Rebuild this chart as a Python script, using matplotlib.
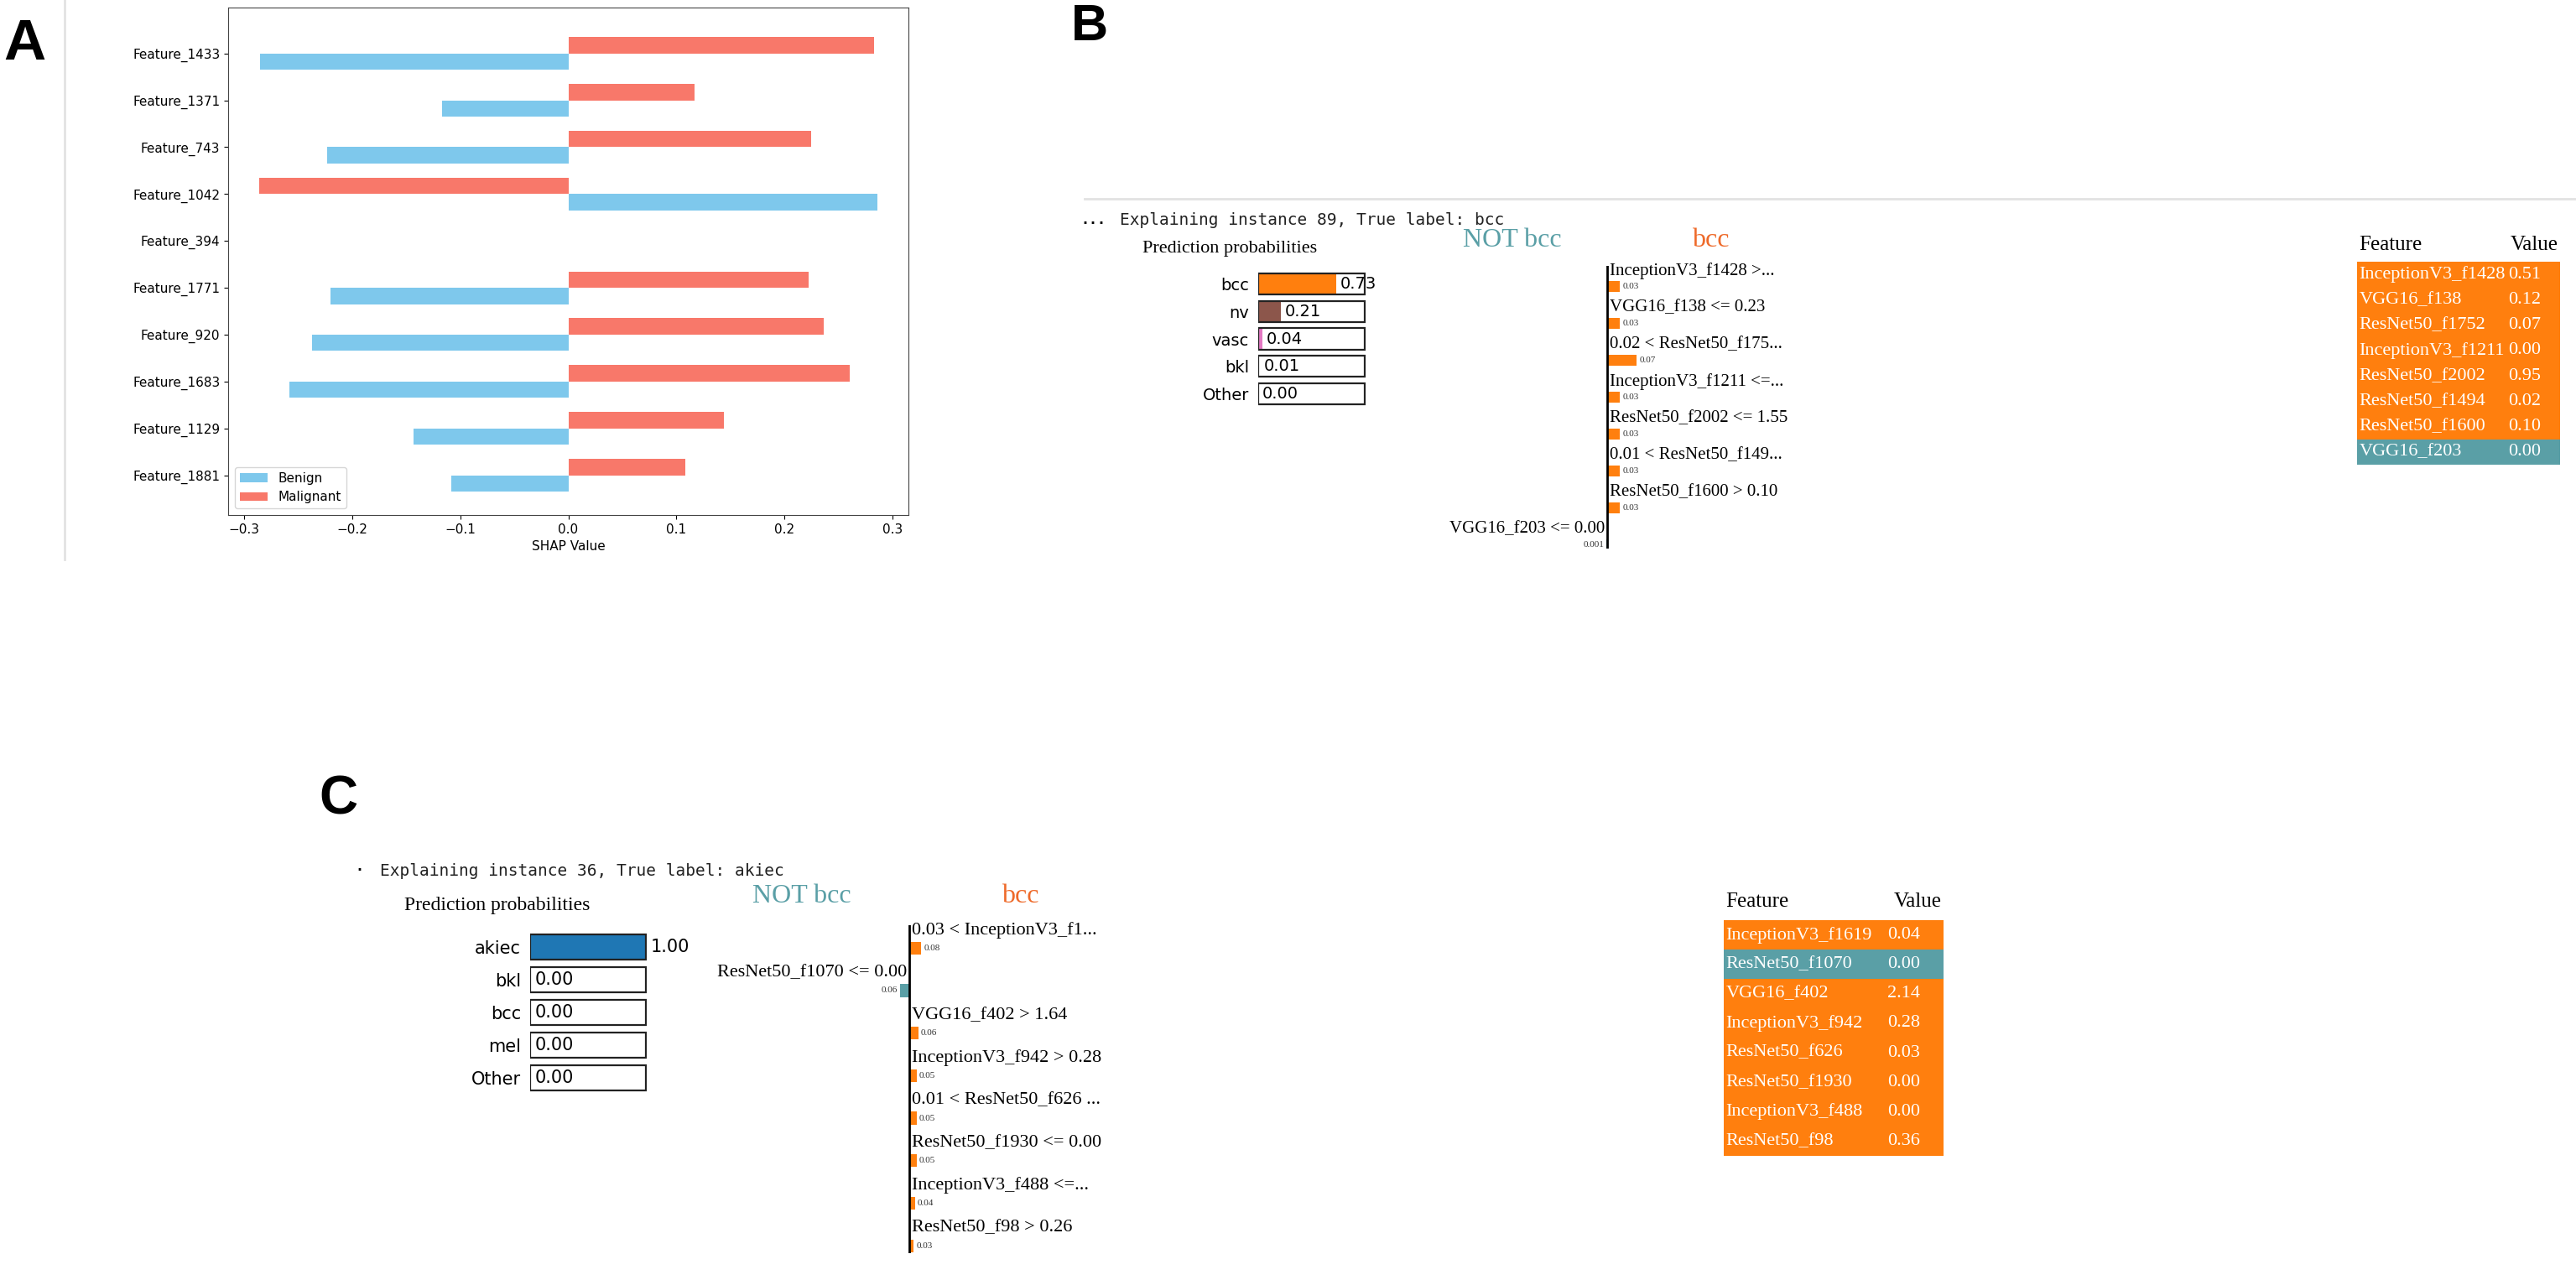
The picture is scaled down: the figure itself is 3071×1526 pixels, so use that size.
import matplotlib.pyplot as plt
from matplotlib.patches import Rectangle
from matplotlib.lines import Line2D
import numpy as np

W, H = 3071, 1526

# ---- panel A data (SHAP values) ----
features_a = ["Feature_1433", "Feature_1371", "Feature_743", "Feature_1042", "Feature_394",
              "Feature_1771", "Feature_920", "Feature_1683", "Feature_1129", "Feature_1881"]
benign = [-0.285, -0.117, -0.223, 0.286, 0.0, -0.220, -0.237, -0.258, -0.143, -0.108]
malignant = [0.283, 0.117, 0.225, -0.286, 0.0, 0.222, 0.236, 0.260, 0.144, 0.108]

# ---- panel B data (LIME, instance 89) ----
b_classes = ["bcc", "nv", "vasc", "bkl", "Other"]
b_probs = [0.73, 0.21, 0.04, 0.01, 0.00]
b_colors = ["#ff7f0e", "#8c564b", "#e377c2", "#7f7f7f", "#bcbd22"]
b_rules = ["InceptionV3_f1428 >...", "VGG16_f138 <= 0.23", "0.02 < ResNet50_f175...",
           "InceptionV3_f1211 <=...", "ResNet50_f2002 <= 1.55", "0.01 < ResNet50_f149...",
           "ResNet50_f1600 > 0.10", "VGG16_f203 <= 0.00"]
b_weights = [0.03, 0.03, 0.07, 0.03, 0.03, 0.03, 0.03, -0.001]
b_wlabels = ["0.03", "0.03", "0.07", "0.03", "0.03", "0.03", "0.03", "0.001"]
b_tab_feat = ["InceptionV3_f1428", "VGG16_f138", "ResNet50_f1752", "InceptionV3_f1211",
              "ResNet50_f2002", "ResNet50_f1494", "ResNet50_f1600", "VGG16_f203"]
b_tab_val = ["0.51", "0.12", "0.07", "0.00", "0.95", "0.02", "0.10", "0.00"]

# ---- panel C data (LIME, instance 36) ----
c_classes = ["akiec", "bkl", "bcc", "mel", "Other"]
c_probs = [1.00, 0.00, 0.00, 0.00, 0.00]
c_colors = ["#1f77b4", "#7f7f7f", "#ff7f0e", "#d62728", "#bcbd22"]
c_rules = ["0.03 < InceptionV3_f1...", "ResNet50_f1070 <= 0.00", "VGG16_f402 > 1.64",
           "InceptionV3_f942 > 0.28", "0.01 < ResNet50_f626 ...", "ResNet50_f1930 <= 0.00",
           "InceptionV3_f488 <=...", "ResNet50_f98 > 0.26"]
c_weights = [0.08, -0.06, 0.06, 0.05, 0.05, 0.05, 0.04, 0.03]
c_wlabels = ["0.08", "0.06", "0.06", "0.05", "0.05", "0.05", "0.04", "0.03"]
c_tab_feat = ["InceptionV3_f1619", "ResNet50_f1070", "VGG16_f402", "InceptionV3_f942",
              "ResNet50_f626", "ResNet50_f1930", "InceptionV3_f488", "ResNet50_f98"]
c_tab_val = ["0.04", "0.00", "2.14", "0.28", "0.03", "0.00", "0.00", "0.36"]

ORANGE = "#ff7f0e"
TEAL = "#5a9fa6"
SERIF = "Liberation Serif"
MONO = "DejaVu Sans Mono"

fig = plt.figure(figsize=(W / 100, H / 100), dpi=100)


def ax_px(x0, y0, x1, y1):
    return fig.add_axes([x0 / W, 1 - y1 / H, (x1 - x0) / W, (y1 - y0) / H])


def ftext(x, y, s, **kw):
    fig.text(x / W, 1 - y / H, s, **kw)


# panel letters and separators
ftext(4, 53, "A", fontsize=50, fontweight="bold", family="Liberation Sans", va="center")
ftext(1277, 33, "B", fontsize=44, fontweight="bold", family="Liberation Sans", va="center")
ftext(380, 953, "C", fontsize=46, fontweight="bold", family="Liberation Sans", va="center")
fig.add_artist(Line2D([77 / W, 77 / W], [1, 1 - 667 / H], color="#e2e2e2", lw=2))
fig.add_artist(Line2D([1293 / W, 1], [1 - 237 / H, 1 - 237 / H], color="#e2e2e2", lw=2))

# ---- panel A ----
axA = ax_px(272, 9, 1083, 614)
ya = np.arange(len(features_a))[::-1]
axA.barh(ya - 0.175, benign, height=0.35, color="#7ec8ec", label="Benign")
axA.barh(ya + 0.175, malignant, height=0.35, color="#f8786a", label="Malignant")
axA.set_yticks(ya)
axA.set_yticklabels(features_a, fontsize=11)
axA.set_xlim(-0.3147, 0.3147)
axA.set_ylim(-0.85, 9.98)
axA.set_xticks([-0.3, -0.2, -0.1, 0.0, 0.1, 0.2, 0.3])
axA.tick_params(labelsize=11)
axA.set_xlabel("SHAP Value", fontsize=11)
for s in axA.spines.values():
    s.set_color("#444444")
axA.legend(loc="lower left", fontsize=11, handlelength=2.2)
# lower half of the axis title is cropped in the source
fig.add_artist(Rectangle((600 / W, 1 - 700 / H), 300 / W, 30 / H, transform=fig.transFigure,
                         facecolor="white", edgecolor="none", zorder=10))


def lime_panel(title, tx, ty, mark, mark_s, pp_xy, prob_box, classes, probs, colors, fs,
               hdr_xy, rules, weights, wlabels, exp_box, xlim, row_top, row_sp, efs,
               tab_box, hdr_y, feats, vals):
    ftext(mark, ty, mark_s, fontsize=12, family=MONO, va="center", fontweight="bold")
    ftext(tx, ty, title, fontsize=14, family=MONO, va="center", color="#222222")
    ftext(pp_xy[0], pp_xy[1], "Prediction probabilities", fontsize=fs + 2, family=SERIF, va="center")
    # probability bars
    x0, y0, x1, y1 = prob_box
    ax = ax_px(x0, y0, x1, y1)
    yy = np.arange(len(classes))
    ax.barh(yy, probs, height=0.77, color=colors)
    ax.barh(yy, [1] * len(classes), height=0.77, facecolor="none", edgecolor="#222222", lw=1.6)
    for y, p in zip(yy, probs):
        ax.text(p + 0.04, y, f"{p:.2f}", va="center", fontsize=fs)
    ax.set_xlim(0, 1.005)
    ax.set_ylim(len(classes) - 0.5, -0.5)
    ax.set_yticks(yy)
    ax.set_yticklabels(classes, fontsize=fs)
    ax.set_xticks([])
    ax.tick_params(length=0, pad=8)
    for s in ax.spines.values():
        s.set_visible(False)
    # explanation
    ftext(hdr_xy[0], hdr_xy[1], "NOT bcc", fontsize=23, family=SERIF, color=TEAL, va="center")
    ftext(hdr_xy[2], hdr_xy[1], "bcc", fontsize=23, family=SERIF, color="#ee6a2a", va="center")
    x0, y0, x1, y1 = exp_box
    ae = ax_px(x0, y0, x1, y1)
    n = len(rules)
    ae.set_xlim(*xlim)
    ae.set_ylim((y1 - row_top) / row_sp, (y0 - row_top) / row_sp)
    off = 0.42
    ae.barh(np.arange(n) + off, weights, height=0.3,
            color=[ORANGE if w > 0 else TEAL for w in weights])
    d = (xlim[1] - xlim[0]) * 0.004
    for i, (r, w, wl) in enumerate(zip(rules, weights, wlabels)):
        if w > 0:
            ae.text(d, i, r, ha="left", va="center", fontsize=efs, family=SERIF)
            ae.text(w + d, i + off, wl, ha="left", va="center", fontsize=8, family=SERIF, color="#333333")
        else:
            ae.text(-d, i, r, ha="right", va="center", fontsize=efs, family=SERIF)
            ae.text(w - d, i + off, wl, ha="right", va="center", fontsize=8, family=SERIF, color="#333333")
    ae.axvline(0, color="black", lw=2)
    ae.axis("off")
    # table
    x0, y0, x1, y1 = tab_box
    ftext(x0 + 2, hdr_y, "Feature", fontsize=18, family=SERIF, va="center")
    ftext(x1 - 2, hdr_y, "Value", fontsize=18, family=SERIF, va="center", ha="right")
    at = ax_px(x0, y0, x1, y1)
    yy = np.arange(len(feats))
    at.barh(yy, [1] * len(feats), height=1.0,
            color=[ORANGE if w > 0 else TEAL for w in weights])
    for y, f, v in zip(yy, feats, vals):
        at.text(0.01, y, f, color="white", va="center", fontsize=16, family=SERIF)
        at.text(0.745, y, v, color="white", va="center", fontsize=16, family=SERIF)
    at.set_xlim(0, 1)
    at.set_ylim(len(feats) - 0.5, -0.5)
    at.axis("off")


lime_panel("Explaining instance 89, True label: bcc", 1335, 262, 1288, "...", (1362, 297),
           (1500, 322, 1628, 486), b_classes, b_probs, b_colors, 14,
           (1744, 287, 2017), b_rules, b_weights, b_wlabels, (1600, 317, 2400, 654),
           (-316 / 500, 484 / 500), 323, 44, 15,
           (2810, 312, 3052, 554), 292, b_tab_feat, b_tab_val)

lime_panel("Explaining instance 36, True label: akiec", 453, 1038, 423, "·", (482, 1080),
           (632, 1110, 771, 1304), c_classes, c_probs, c_colors, 15,
           (897, 1068, 1194), c_rules, c_weights, c_wlabels, (800, 1103, 1500, 1494),
           (-284 / 180, 416 / 180), 1109, 50.7, 16,
           (2055, 1097, 2317, 1378), 1075, c_tab_feat, c_tab_val)

fig.savefig("out.png", dpi=100, facecolor="white")
